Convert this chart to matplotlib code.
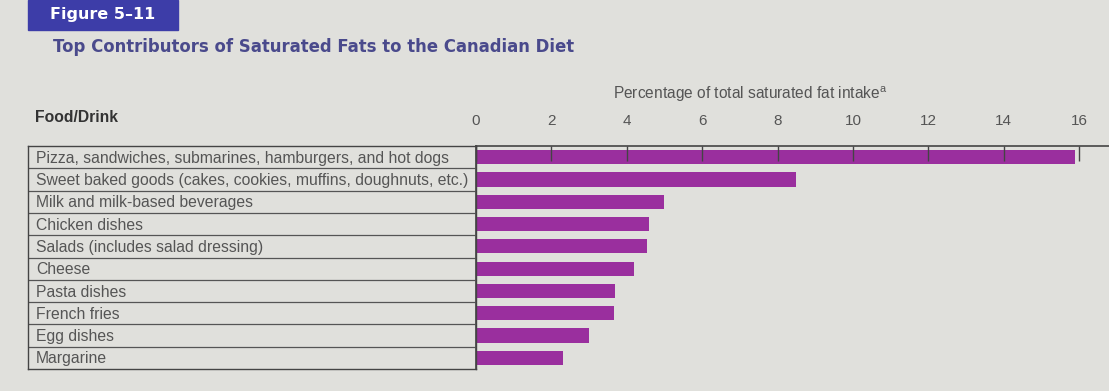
import matplotlib
matplotlib.use("Agg")
import matplotlib.pyplot as plt
from matplotlib.patches import Rectangle

# ------------------------------------------------------------
# Datos
# ------------------------------------------------------------
alimentos = [
    "Pizza, sandwiches, submarines, hamburgers, and hot dogs",
    "Sweet baked goods (cakes, cookies, muffins, doughnuts, etc.)",
    "Milk and milk-based beverages",
    "Chicken dishes",
    "Salads (includes salad dressing)",
    "Cheese",
    "Pasta dishes",
    "French fries",
    "Egg dishes",
    "Margarine",
]
porcentajes = [15.9, 8.5, 5.0, 4.6, 4.55, 4.2, 3.7, 3.65, 3.0, 2.3]
ticks_x = [0, 2, 4, 6, 8, 10, 12, 14, 16]

FONDO = "#e0e0dc"
BARRA = "#9a2f9e"
AZUL = "#3d3da8"
TITULO = "#4a4a8c"
GRIS = "#555555"
LINEA = "#444444"

W, H = 1109, 391
fig = plt.figure(figsize=(W / 100, H / 100), dpi=100, facecolor=FONDO)

def fx(px):
    return px / W

def fy(py):
    return 1 - py / H

# --- cabecera ---
fig.patches.append(Rectangle((fx(28), fy(30)), fx(178) - fx(28), fy(0) - fy(30),
                             transform=fig.transFigure, color=AZUL, zorder=0))
fig.text(fx(50), fy(15), "Figure 5\u201311", color="white", fontsize=11.5,
         fontweight="bold", family="DejaVu Sans", ha="left", va="center")
fig.text(fx(53), fy(47), "Top Contributors of Saturated Fats to the Canadian Diet",
         color=TITULO, fontsize=11.9, fontweight="bold",
         family="DejaVu Sans", ha="left", va="center")

# --- eje de barras ---
x0, x16 = 476, 1079
px_por_u = (x16 - x0) / 16
top, bot = 146, 369
ax = fig.add_axes([fx(x0), fy(bot), fx(W) - fx(x0), fy(top) - fy(bot)])
ax.set_facecolor("none")
n = len(alimentos)
y = list(range(n))
ax.barh(y, porcentajes, height=0.64, color=BARRA, align="center")
ax.set_xlim(0, (W - x0) / px_por_u)
ax.set_ylim(n - 0.5, -0.5)
ax.set_yticks([])
for s in ["right", "bottom"]:
    ax.spines[s].set_visible(False)
ax.spines["top"].set_color(LINEA)
ax.spines["left"].set_color(LINEA)
ax.spines["top"].set_linewidth(1.2)
ax.spines["left"].set_linewidth(1.2)
ax.xaxis.tick_top()
ax.set_xticks(ticks_x)
ax.tick_params(axis="x", direction="in", length=11, width=1, color=LINEA,
               labelsize=11, labelcolor=GRIS, pad=13)
fig.text(fx(750), fy(94), r"Percentage of total saturated fat intake$^{\mathregular{a}}$",
         color=GRIS, fontsize=11.2, family="Liberation Sans", ha="center", va="center")
for lbl in ax.get_xticklabels():
    lbl.set_family("Liberation Sans")

# --- tabla de alimentos ---
axt = fig.add_axes([fx(28), fy(bot), fx(x0) - fx(28), fy(top) - fy(bot)])
axt.set_facecolor("none")
axt.set_xlim(0, 1)
axt.set_ylim(n - 0.5, -0.5)
axt.set_xticks([])
axt.set_yticks([])
for s in axt.spines.values():
    s.set_color(LINEA)
    s.set_linewidth(1)
for i in range(1, n):
    axt.axhline(i - 0.5, color="#555555", lw=0.9)
for i, nombre in enumerate(alimentos):
    axt.text(8 / (x0 - 28), i + 0.05, nombre, color=GRIS, fontsize=11.3,
             family="Liberation Sans", ha="left", va="center")

fig.text(fx(35), fy(118), "Food/Drink", color="#333333", fontsize=11.3,
         fontweight="bold", family="Liberation Sans", ha="left", va="center")

fig.savefig("out.png", dpi=100, facecolor=FONDO)
